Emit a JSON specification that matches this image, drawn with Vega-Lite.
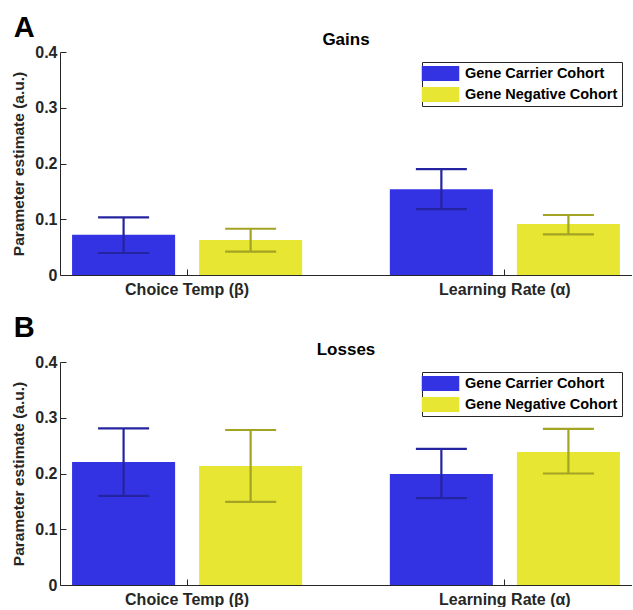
{
  "$schema": "https://vega.github.io/schema/vega-lite/v6.json",
  "background": "white",
  "padding": {"left": 11, "top": 14, "right": 0, "bottom": 0},
  "datasets": {
    "gains": [
      {"param": "Choice Temp (β)", "cohort": "Gene Carrier Cohort", "mean": 0.072, "lo": 0.0395, "hi": 0.1035},
      {"param": "Choice Temp (β)", "cohort": "Gene Negative Cohort", "mean": 0.063, "lo": 0.042, "hi": 0.083},
      {"param": "Learning Rate (α)", "cohort": "Gene Carrier Cohort", "mean": 0.154, "lo": 0.118, "hi": 0.190},
      {"param": "Learning Rate (α)", "cohort": "Gene Negative Cohort", "mean": 0.0915, "lo": 0.073, "hi": 0.1076}
    ],
    "losses": [
      {"param": "Choice Temp (β)", "cohort": "Gene Carrier Cohort", "mean": 0.2205, "lo": 0.160, "hi": 0.281},
      {"param": "Choice Temp (β)", "cohort": "Gene Negative Cohort", "mean": 0.2135, "lo": 0.149, "hi": 0.278},
      {"param": "Learning Rate (α)", "cohort": "Gene Carrier Cohort", "mean": 0.199, "lo": 0.156, "hi": 0.244},
      {"param": "Learning Rate (α)", "cohort": "Gene Negative Cohort", "mean": 0.2385, "lo": 0.200, "hi": 0.280}
    ]
  },
  "config": {
    "font": "Liberation Sans",
    "view": {"stroke": null},
    "concat": {"spacing": 17},
    "axis": {
      "domainColor": "#262626",
      "tickColor": "#262626",
      "labelColor": "#262626",
      "titleColor": "#262626",
      "labelFont": "Liberation Sans",
      "titleFont": "Liberation Sans",
      "labelFontWeight": "bold",
      "titleFontWeight": "bold",
      "labelFontSize": 16,
      "titleFontSize": 15.5,
      "grid": false,
      "tickSize": -6,
      "domainWidth": 1
    },
    "legend": {
      "labelFont": "Liberation Sans",
      "labelFontSize": 14.5,
      "labelFontWeight": "bold",
      "labelColor": "#000000"
    }
  },
  "vconcat": [
    {
      "title": {"text": "A", "anchor": "start", "fontSize": 29, "fontWeight": "bold", "color": "#000000", "offset": -12, "dx": 2},
      "vconcat": [
        {
          "title": {"text": "Gains", "fontSize": 17, "fontWeight": "bold", "color": "#000000", "offset": -5},
          "width": 572,
          "height": 223,
          "data": {"name": "gains"},
          "encoding": {
            "x": {"field": "param", "type": "nominal", "sort": null, "title": null,
                  "scale": {"paddingInner": 0.2, "paddingOuter": 0},
                  "axis": {"labelAngle": 0, "labelPadding": 12}},
            "xOffset": {"field": "cohort", "type": "nominal", "sort": null,
                  "scale": {"paddingInner": 0.189, "paddingOuter": 0.095}}
          },
          "layer": [
            {
              "mark": {"type": "bar"},
              "encoding": {
                "y": {"field": "mean", "type": "quantitative", "title": "Parameter estimate (a.u.)",
                      "scale": {"domain": [0, 0.4], "nice": false},
                      "axis": {"values": [0, 0.1, 0.2, 0.3, 0.4], "format": "~g", "labelPadding": 9, "titlePadding": 8}},
                "color": {"field": "cohort", "type": "nominal", "sort": null,
                  "scale": {"domain": ["Gene Carrier Cohort", "Gene Negative Cohort"], "range": ["#3333e3", "#e6e633"]},
                  "legend": {"title": null, "orient": "top-right", "offset": 10,
                    "symbolType": "M-2.5,-1L2.5,-1L2.5,1L-2.5,1Z", "symbolSize": 225, "symbolStrokeWidth": 0,
                    "symbolOffset": 7, "labelOffset": 17, "rowPadding": 5,
                    "strokeColor": "#262626", "fillColor": "white", "padding": 4}}
              }
            },
            {
              "mark": {"type": "rule", "strokeWidth": 2.2},
              "encoding": {
                "y": {"field": "lo", "type": "quantitative"},
                "y2": {"field": "hi"},
                "color": {"field": "cohort", "type": "nominal", "sort": null,
                  "scale": {"domain": ["Gene Carrier Cohort", "Gene Negative Cohort"], "range": ["#2424a0", "#a3a324"]}, "legend": null}
              }
            },
            {
              "mark": {"type": "tick", "thickness": 2.2, "size": 51, "orient": "horizontal", "opacity": 1},
              "encoding": {
                "y": {"field": "lo", "type": "quantitative"},
                "color": {"field": "cohort", "type": "nominal", "sort": null,
                  "scale": {"domain": ["Gene Carrier Cohort", "Gene Negative Cohort"], "range": ["#2424a0", "#a3a324"]}, "legend": null}
              }
            },
            {
              "mark": {"type": "tick", "thickness": 2.2, "size": 51, "orient": "horizontal", "opacity": 1},
              "encoding": {
                "y": {"field": "hi", "type": "quantitative"},
                "color": {"field": "cohort", "type": "nominal", "sort": null,
                  "scale": {"domain": ["Gene Carrier Cohort", "Gene Negative Cohort"], "range": ["#2424a0", "#a3a324"]}, "legend": null}
              }
            }
          ],
          "resolve": {"scale": {"color": "independent"}}
        }
      ]
    },
    {
      "title": {"text": "B", "anchor": "start", "fontSize": 29, "fontWeight": "bold", "color": "#000000", "offset": -2, "dx": 2},
      "vconcat": [
        {
          "title": {"text": "Losses", "fontSize": 17, "fontWeight": "bold", "color": "#000000", "offset": -5},
          "width": 572,
          "height": 223,
          "data": {"name": "losses"},
          "encoding": {
            "x": {"field": "param", "type": "nominal", "sort": null, "title": null,
                  "scale": {"paddingInner": 0.2, "paddingOuter": 0},
                  "axis": {"labelAngle": 0, "labelPadding": 12}},
            "xOffset": {"field": "cohort", "type": "nominal", "sort": null,
                  "scale": {"paddingInner": 0.189, "paddingOuter": 0.095}}
          },
          "layer": [
            {
              "mark": {"type": "bar"},
              "encoding": {
                "y": {"field": "mean", "type": "quantitative", "title": "Parameter estimate (a.u.)",
                      "scale": {"domain": [0, 0.4], "nice": false},
                      "axis": {"values": [0, 0.1, 0.2, 0.3, 0.4], "format": "~g", "labelPadding": 9, "titlePadding": 8}},
                "color": {"field": "cohort", "type": "nominal", "sort": null,
                  "scale": {"domain": ["Gene Carrier Cohort", "Gene Negative Cohort"], "range": ["#3333e3", "#e6e633"]},
                  "legend": {"title": null, "orient": "top-right", "offset": 10,
                    "symbolType": "M-2.5,-1L2.5,-1L2.5,1L-2.5,1Z", "symbolSize": 225, "symbolStrokeWidth": 0,
                    "symbolOffset": 7, "labelOffset": 17, "rowPadding": 5,
                    "strokeColor": "#262626", "fillColor": "white", "padding": 4}}
              }
            },
            {
              "mark": {"type": "rule", "strokeWidth": 2.2},
              "encoding": {
                "y": {"field": "lo", "type": "quantitative"},
                "y2": {"field": "hi"},
                "color": {"field": "cohort", "type": "nominal", "sort": null,
                  "scale": {"domain": ["Gene Carrier Cohort", "Gene Negative Cohort"], "range": ["#2424a0", "#a3a324"]}, "legend": null}
              }
            },
            {
              "mark": {"type": "tick", "thickness": 2.2, "size": 51, "orient": "horizontal", "opacity": 1},
              "encoding": {
                "y": {"field": "lo", "type": "quantitative"},
                "color": {"field": "cohort", "type": "nominal", "sort": null,
                  "scale": {"domain": ["Gene Carrier Cohort", "Gene Negative Cohort"], "range": ["#2424a0", "#a3a324"]}, "legend": null}
              }
            },
            {
              "mark": {"type": "tick", "thickness": 2.2, "size": 51, "orient": "horizontal", "opacity": 1},
              "encoding": {
                "y": {"field": "hi", "type": "quantitative"},
                "color": {"field": "cohort", "type": "nominal", "sort": null,
                  "scale": {"domain": ["Gene Carrier Cohort", "Gene Negative Cohort"], "range": ["#2424a0", "#a3a324"]}, "legend": null}
              }
            }
          ],
          "resolve": {"scale": {"color": "independent"}}
        }
      ]
    }
  ]
}
